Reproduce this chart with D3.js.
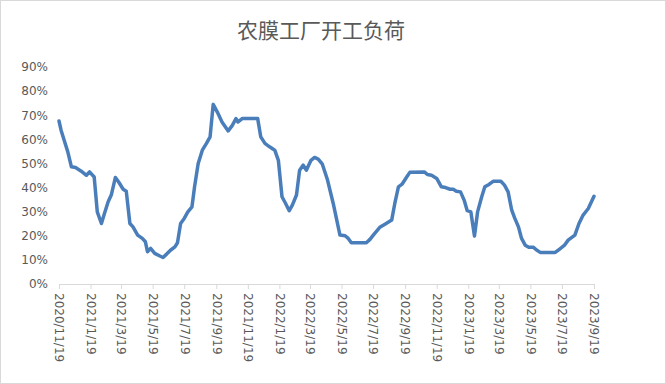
<!DOCTYPE html>
<html>
<head>
<meta charset="utf-8">
<script src="https://cdn.jsdelivr.net/npm/d3@7/dist/d3.min.js"></script>
<style>
    body{margin:0;background:#fff;}
    #chart{width:666px;height:384px;}
</style>
</head>
<body>
<div id="chart"></div>
<script>
//数据：日期与开工负荷(%)
var dates=["2020-11-19","2020-11-23","2020-11-29","2020-12-06","2020-12-13","2020-12-21",
    "2021-01-01","2021-01-11","2021-01-17","2021-01-26","2021-02-01","2021-02-09","2021-02-15",
    "2021-02-22","2021-02-28","2021-03-08","2021-03-14","2021-03-23","2021-03-29","2021-04-05",
    "2021-04-11","2021-04-20","2021-04-29","2021-05-05","2021-05-09","2021-05-15","2021-05-23",
    "2021-06-02","2021-06-08","2021-06-15","2021-06-23","2021-07-01","2021-07-06","2021-07-12",
    "2021-07-19","2021-07-26","2021-08-03","2021-08-08","2021-08-15","2021-08-23","2021-08-31",
    "2021-09-07","2021-09-13","2021-09-21","2021-09-30","2021-10-12","2021-10-20","2021-10-27",
    "2021-10-31","2021-11-08","2021-12-08","2021-12-14","2021-12-22","2021-12-31","2022-01-10",
    "2022-01-17","2022-01-24","2022-01-31","2022-02-07","2022-02-13","2022-02-21","2022-02-27",
    "2022-03-06","2022-03-12","2022-03-21","2022-03-28","2022-04-04","2022-04-12","2022-04-22",
    "2022-05-03","2022-05-16","2022-05-26","2022-06-01","2022-06-07","2022-07-06","2022-07-13",
    "2022-07-21","2022-08-01","2022-08-11","2022-08-24","2022-08-30","2022-09-06","2022-09-13",
    "2022-09-22","2022-09-28","2022-10-26","2022-11-01","2022-11-09","2022-11-19","2022-11-28",
    "2022-12-06","2022-12-15","2022-12-21","2022-12-27","2023-01-04","2023-01-11","2023-01-17",
    "2023-01-24","2023-01-31","2023-02-06","2023-02-14","2023-02-20","2023-02-28","2023-03-08",
    "2023-03-23","2023-03-30","2023-04-06","2023-04-13","2023-04-19","2023-04-26","2023-05-02",
    "2023-05-09","2023-05-16","2023-05-25","2023-05-31","2023-06-07","2023-07-06","2023-07-14",
    "2023-07-24","2023-07-31","2023-08-13","2023-08-21","2023-08-29","2023-09-08","2023-09-19"];
var loads=[67.6,63.8,59.6,54.8,48.6,48.3,
    46.8,45.1,46.5,44.4,29.9,25.1,29.3,
    34.1,36.9,44.2,42.4,39.3,38.5,25.1,
    23.7,20.3,18.9,17.5,13.4,14.8,12.7,
    11.6,11.0,12.4,14.1,15.4,17.1,25.1,
    27.2,29.9,32.0,40.3,50.0,55.5,58.3,
    61.0,74.5,71.3,67.2,63.5,65.8,68.6,
    67.2,68.6,68.6,61.0,58.3,56.9,55.5,
    51.3,36.2,33.4,30.4,32.7,36.9,47.2,
    49.3,47.2,51.3,52.5,51.8,49.7,43.1,
    33.4,20.3,20.0,18.9,17.1,17.1,18.5,
    20.7,23.5,24.8,26.5,33.4,40.3,41.4,
    44.4,46.3,46.5,45.4,45.1,43.8,40.3,
    40.0,39.3,39.3,38.5,38.2,34.8,30.4,
    29.9,19.9,29.9,36.2,40.3,41.3,42.6,
    42.6,41.0,38.2,30.6,27.2,23.7,18.9,
    16.1,15.2,15.2,14.1,13.1,13.1,14.4,
    16.1,18.2,20.3,25.1,28.6,31.3,36.4];
//坐标轴刻度
var yTicks=[0,10,20,30,40,50,60,70,80,90];
var xTicks=["2020-11-19","2021-01-19","2021-03-19","2021-05-19","2021-07-19","2021-09-19",
    "2021-11-19","2022-01-19","2022-03-19","2022-05-19","2022-07-19","2022-09-19",
    "2022-11-19","2023-01-19","2023-03-19","2023-05-19","2023-07-19","2023-09-19"];
var title="农膜工厂开工负荷";

var parse=d3.timeParse("%Y-%m-%d");
var fmt=function(d){return d.getFullYear()+"/"+(d.getMonth()+1)+"/"+d.getDate();};
var dataset=d3.zip(dates.map(parse),loads);

var svgwidth=666,svgheight=384;
var _margin={top:67,left:59,right:72,bottom:100};
var chartwidth=svgwidth-_margin.left-_margin.right;
var chartheight=svgheight-_margin.top-_margin.bottom;
var labelFont="'DejaVu Sans',sans-serif";

var _svg=d3.select("#chart").append("svg")
    .attr("width",svgwidth)
    .attr("height",svgheight);
//外边框
_svg.append("rect")
    .attr("x",0.5).attr("y",0.5)
    .attr("width",svgwidth-1).attr("height",svgheight-1)
    .attr("fill","#fff")
    .attr("stroke","#d9d9d9");
//标题
_svg.append("text")
    .attr("x",321).attr("y",38)
    .attr("text-anchor","middle")
    .attr("font-family","'Noto Sans CJK SC',sans-serif")
    .attr("font-size","21px")
    .attr("fill","#595959")
    .text(title);

var _g=_svg.append("g")
    .attr("transform","translate("+_margin.left+","+_margin.top+")");

var xscale=d3.scaleTime()
    .domain([parse(xTicks[0]),parse(xTicks[xTicks.length-1])])
    .range([0,chartwidth]);
var yscale=d3.scaleLinear()
    .domain([0,90])
    .range([chartheight,0]);

//x轴
var gx=_g.append("g")
    .attr("transform","translate(0,"+chartheight+")")
    .call(d3.axisBottom(xscale).tickValues(xTicks.map(parse)).tickFormat(fmt).tickSize(5).tickSizeOuter(0));
gx.select(".domain").attr("stroke","#d9d9d9");
gx.selectAll(".tick line").attr("stroke","#d9d9d9");
gx.selectAll(".tick text")
    .attr("fill","#595959")
    .attr("font-family",labelFont)
    .attr("font-size","12px")
    .attr("text-anchor","start")
    .attr("transform","rotate(90)")
    .attr("x",9).attr("y",0).attr("dy","0.35em");

//y轴
var gy=_g.append("g")
    .call(d3.axisLeft(yscale).tickValues(yTicks).tickFormat(function(d){return d+"%";}).tickSize(0).tickPadding(11));
gy.select(".domain").remove();
gy.selectAll(".tick text")
    .attr("fill","#595959")
    .attr("font-family",labelFont)
    .attr("font-size","12px");

//折线
var _line=d3.line()
    .x(function(d){return xscale(d[0]);})
    .y(function(d){return yscale(d[1]);});
_g.append("path")
    .attr("d",_line(dataset))
    .attr("fill","none")
    .attr("stroke","#4a7ebb")
    .attr("stroke-width",3.5)
    .attr("stroke-linejoin","round")
    .attr("stroke-linecap","round");
</script>
</body>
</html>
